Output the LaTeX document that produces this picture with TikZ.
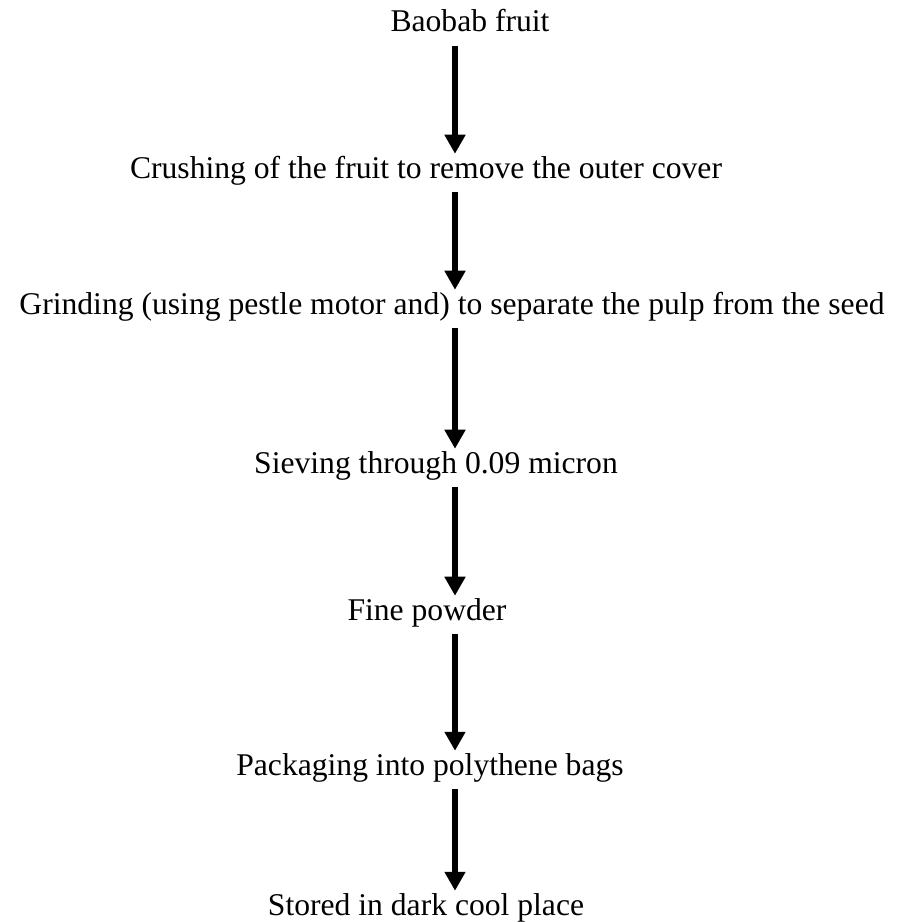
\documentclass[tikz,border=0pt]{standalone}
\usepackage{fontspec}
\setmainfont{Liberation Serif}
\usetikzlibrary{arrows.meta}

\begin{document}
\begin{tikzpicture}[x=0.02cm, y=-0.02cm,
    stage/.style={anchor=base, inner sep=0pt, text height=22pt*0.5669, text depth=8pt*0.5669,
      font=\fontsize{18}{22}\selectfont},
    flow/.style={line width=0.12cm, -{Triangle[width=0.4cm, length=0.38cm]},
      shorten <=0.12cm, shorten >=0.04cm}]
  \useasboundingbox (0,0) rectangle (898,922);

  % stages
  \node[stage] (fruit) at (470,32)  {Baobab fruit};
  \node[stage] (crush) at (426,178) {Crushing of the fruit to remove the outer cover};
  \node[stage] (grind) at (452,314) {Grinding (using pestle motor and) to separate the pulp from the seed};
  \node[stage] (sieve) at (436,473) {Sieving through 0.09 micron};
  \node[stage] (powder) at (427,620) {Fine powder};
  \node[stage] (pack) at (430,775)  {Packaging into polythene bags};
  \node[stage] (store) at (426,915) {Stored in dark cool place};

  % arrows
  \coordinate (spine) at (455,0);
  \foreach \a/\b in {fruit/crush, crush/grind, grind/sieve, sieve/powder, powder/pack, pack/store}
    \draw[flow] (\a.south -| spine) -- (\b.north -| spine);
\end{tikzpicture}
\end{document}
